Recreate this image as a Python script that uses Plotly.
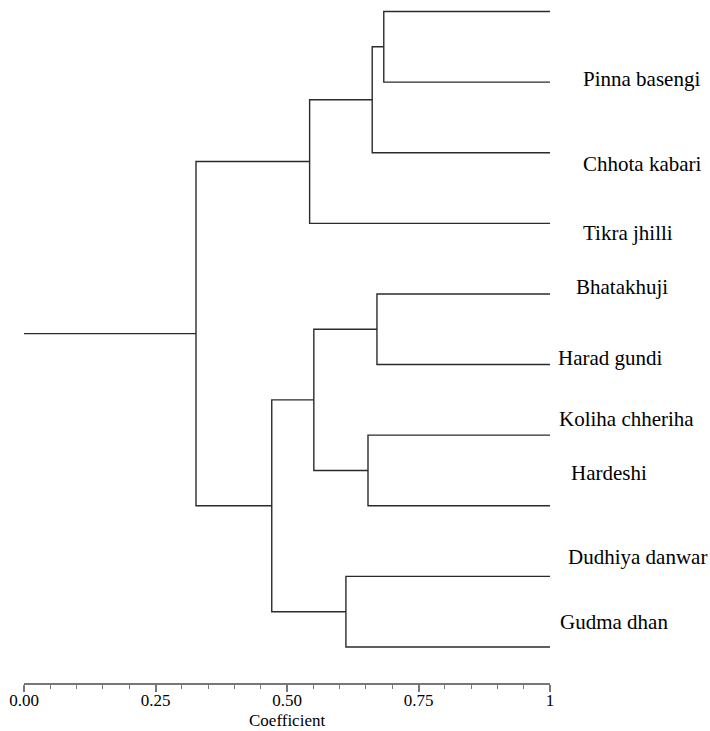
import plotly.graph_objects as go

# ---- data ----
n_leaves = 10
# merges: (child_a, child_b, coefficient); leaves are 0..9, new nodes 10..
merge_a = [0, 10, 11, 4, 6, 13, 8, 15, 12]
merge_b = [1, 2, 3, 5, 7, 14, 9, 16, 17]
merge_h = [0.684, 0.662, 0.543, 0.671, 0.654, 0.551, 0.612, 0.471, 0.327]
leaf_coef = 1.0
root_start = 0.0

labels = ["Pinna basengi", "Chhota kabari", "Tikra jhilli", "Bhatakhuji",
          "Harad gundi", "Koliha chheriha", "Hardeshi", "Dudhiya danwar", "Gudma dhan"]

tick_vals = [0, 0.25, 0.5, 0.75, 1]
tick_text = ["0.00", "0.25", "0.50", "0.75", "1"]

# ---- layout config (label placement, paper-x / leaf-unit y) ----
label_x = [1.059, 1.059, 1.059, 1.046, 1.011, 1.013, 1.037, 1.030, 1.015]
label_y = [0.95, 2.16, 3.14, 3.90, 4.91, 5.77, 6.54, 7.73, 8.65]

SERIF = "Liberation Serif, Times New Roman, Times, serif"

# ---- build dendrogram segments ----
pos = {i: float(i) for i in range(n_leaves)}
hgt = {i: leaf_coef for i in range(n_leaves)}
xs, ys = [], []
for k, (a, b, h) in enumerate(zip(merge_a, merge_b, merge_h)):
    node = n_leaves + k
    xs += [hgt[a], h, h, hgt[b], None]
    ys += [pos[a], pos[a], pos[b], pos[b], None]
    pos[node] = (pos[a] + pos[b]) / 2
    hgt[node] = h
root = n_leaves + len(merge_h) - 1
xs += [root_start, hgt[root], None]
ys += [pos[root], pos[root], None]

fig = go.Figure()
fig.add_trace(go.Scatter(x=xs, y=ys, mode="lines",
                         line=dict(color="#2b2b2b", width=1.4),
                         hoverinfo="skip", showlegend=False))

for t, lx, ly in zip(labels, label_x, label_y):
    fig.add_annotation(x=lx, y=ly, xref="paper", yref="y", text=t,
                       showarrow=False, xanchor="left", yanchor="middle",
                       font=dict(family=SERIF, size=21, color="black"))

fig.add_annotation(x=0.5, y=0, xref="paper", yref="paper", yshift=-37,
                   text="Coefficient", showarrow=False,
                   xanchor="center", yanchor="middle",
                   font=dict(family=SERIF, size=17, color="black"))

fig.update_layout(
    width=710, height=731,
    margin=dict(l=24, r=160, t=0, b=48, autoexpand=False),
    paper_bgcolor="white", plot_bgcolor="white",
    font=dict(family=SERIF, color="black"),
    xaxis=dict(range=[0, 1], showgrid=False, zeroline=False, automargin=False,
               showline=True, linecolor="#777", linewidth=1.5,
               ticks="outside", ticklen=7, tickcolor="#777", tickwidth=1.5,
               tickvals=tick_vals, ticktext=tick_text, ticklabelstandoff=-6,
               tickfont=dict(family=SERIF, size=17, color="black"),
               minor=dict(dtick=0.05, tick0=0, ticks="outside", ticklen=4,
                          tickcolor="#777", tickwidth=1.2, showgrid=False)),
    yaxis=dict(range=[9.51, -0.163], visible=False, showgrid=False, zeroline=False,
               automargin=False),
)

fig.write_html("out.html", config={"displayModeBar": False},
               post_script="document.body.style.margin='0';document.body.style.padding='0';")
